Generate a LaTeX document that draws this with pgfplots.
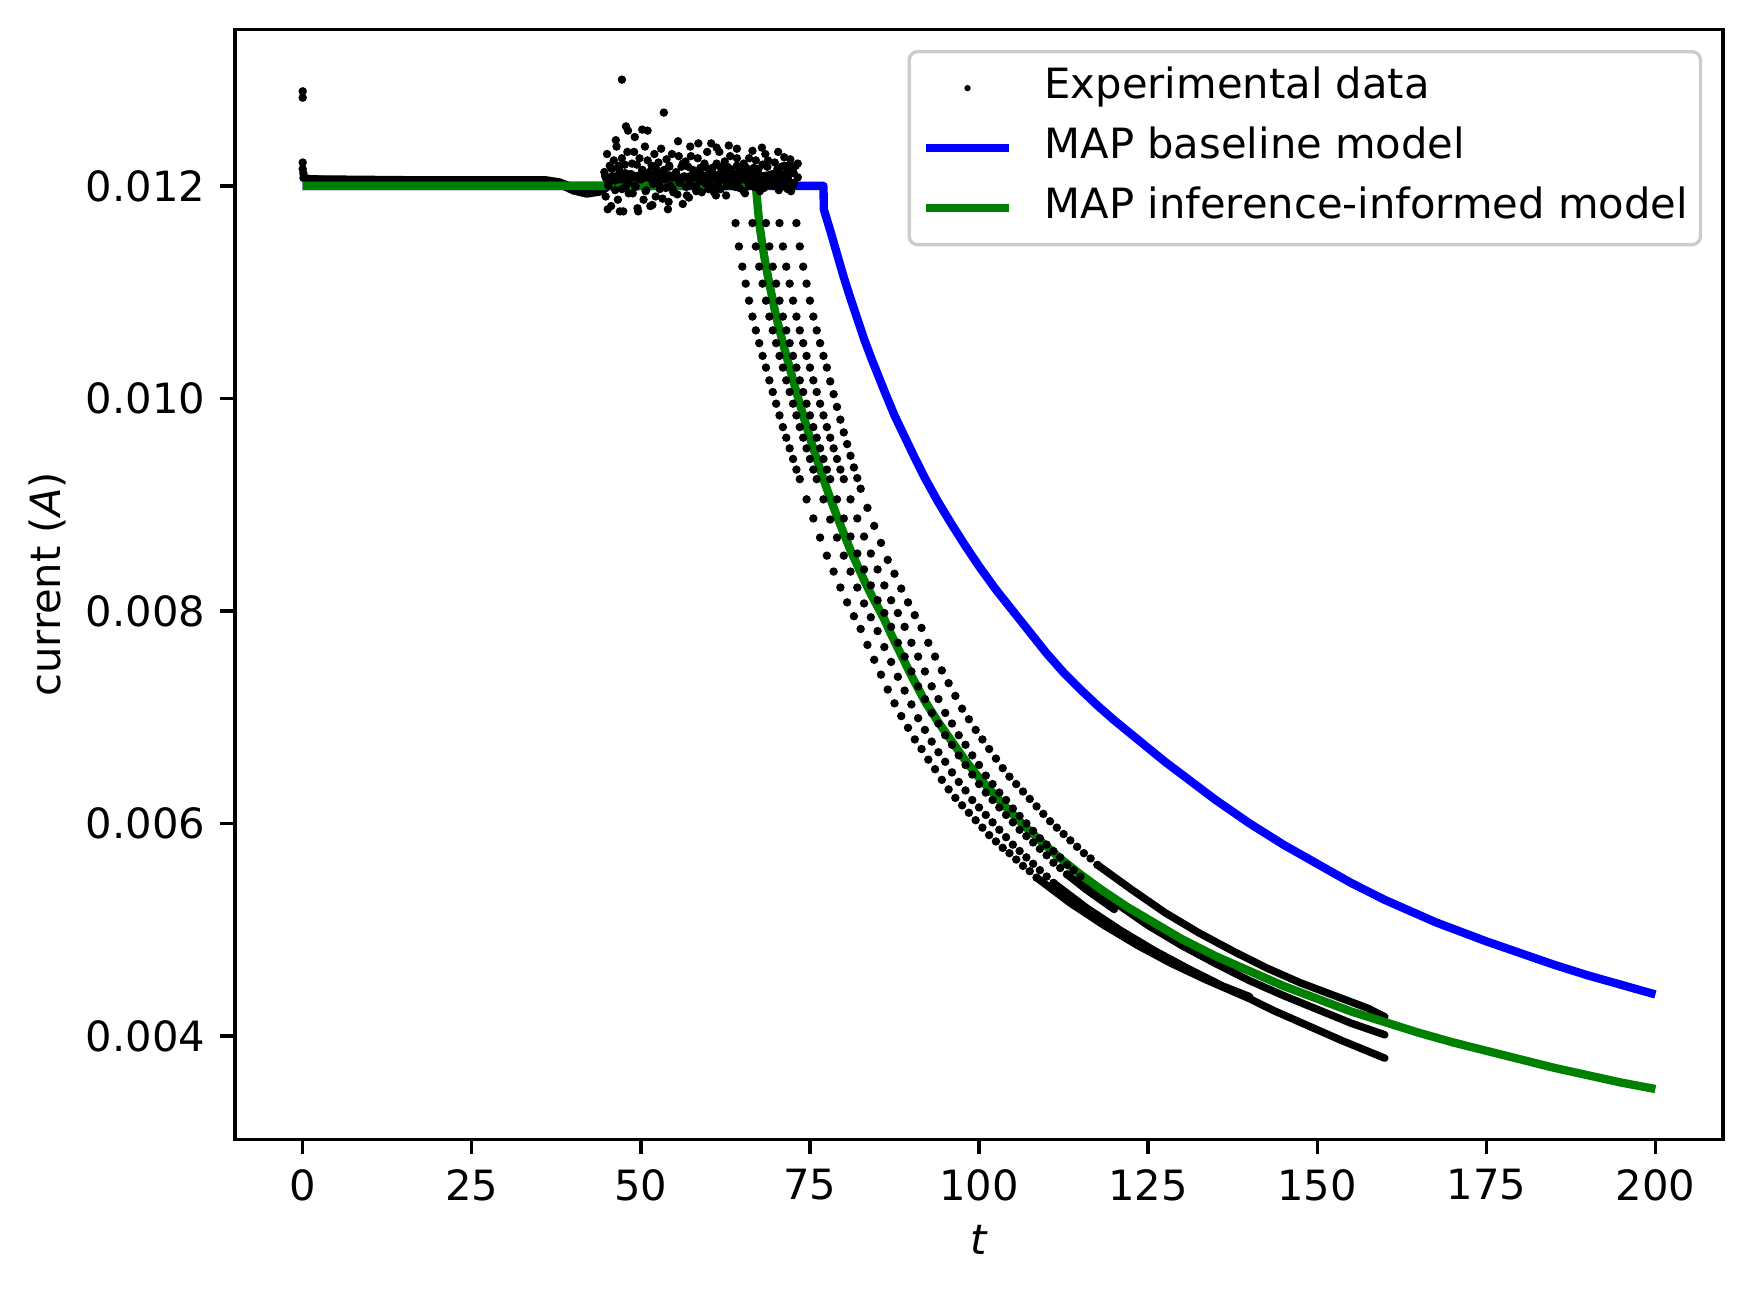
\documentclass[border=0pt]{standalone}
\usepackage{fontspec}
\setmainfont{DejaVu Sans}
\usepackage{pgfplots}
\pgfplotsset{compat=1.18}
\definecolor{mplgreen}{rgb}{0,0.5,0}
\begin{document}
\begin{tikzpicture}
\begin{axis}[
  scale only axis,
  width=357pt, height=266.4pt,
  xmin=-10, xmax=210, ymin=0.003025, ymax=0.013475,
  xtick={0,25,50,75,100,125,150,175,200},
  xticklabels={0,25,50,75,100,125,150,175,200},
  ytick={0.004,0.006,0.008,0.010,0.012},
  yticklabels={0.004,0.006,0.008,0.010,0.012},
  scaled y ticks=false, scaled x ticks=false,
  tick align=outside, major tick length=3.5pt,
  tick style={line width=0.8pt, black},
  axis line style={line width=0.8pt},
  xtick pos=lower, ytick pos=left,
  xticklabel style={inner sep=0pt, yshift=-3.5pt},
  yticklabel style={inner sep=0pt, xshift=-3.5pt},
  xlabel={\textit{t}}, ylabel={current (\textit{A})},
  xlabel style={at={(axis description cs:0.5,-0.09)}, anchor=center},
  ylabel style={at={(axis description cs:-0.126,0.5)}, anchor=center},
  legend cell align=left,
  legend image code/.code={\draw[mark repeat=2,mark phase=2,#1] plot coordinates {(0pt,0pt) (10pt,0pt) (20pt,0pt)};},
  legend style={at={(axis description cs:1,1)}, anchor=north east, xshift=-5pt, yshift=-5pt,
    draw=black!20, line width=0.8pt, rounded corners=2pt, fill=white,
    inner xsep=3pt, inner ysep=4pt, row sep=4.9pt, column sep=7.5pt,
    nodes={inner sep=0pt, text height=7.3pt, text depth=2.2pt}},
  dat/.style={forget plot, only marks, mark=*, mark size=0.85pt, black, line width=0.3pt},
  lat/.style={forget plot, black, line width=1.8pt, line join=round, line cap=round},
]
\coordinate (bbsw) at (rel axis cs:0,0);
\coordinate (bbne) at (rel axis cs:1,1);
\addlegendimage{only marks, mark=*, mark size=0.6pt, black, line width=0.3pt}
\addlegendentry{Experimental data}
\addlegendimage{blue, line width=2pt}
\addlegendentry{MAP baseline model}
\addlegendimage{mplgreen, line width=2pt}
\addlegendentry{MAP inference-informed model}

% ---- experimental data: flat part (overlapping traces)
\addplot[lat, line width=1.6pt] coordinates {
(0,0.01209)(1,0.01207)(5,0.01206)(20,0.01206)(30,0.01206)(36,0.01206)(38,0.01204)(40,0.01199)(42,0.01196)(44,0.01197)(45,0.01200)};
\addplot[lat, line width=1.6pt] coordinates {
(0,0.01207)(36,0.01205)(38,0.01201)(40,0.01195)(42,0.01192)(44,0.01194)(45,0.01198)};
% core of the noisy part
\addplot[lat, line width=3pt, line cap=butt] coordinates {
(44.5,0.01203)(46,0.01207)(48,0.01205)(50,0.01208)(52,0.01206)(54,0.01208)(56,0.01205)(58,0.01208)(60,0.01207)(62,0.01209)(64,0.01207)(66,0.01209)(68,0.01207)(70,0.01209)(72,0.01208)};
% noisy cloud
\addplot[dat] coordinates {
(44.6,0.01213)(44.8,0.01190)(45.0,0.01230)(45.2,0.01202)(45.4,0.01219)(45.6,0.01181)(45.8,0.01209)(46.0,0.01224)(46.2,0.01196)(46.4,0.01237)(46.6,0.01187)(46.8,0.01215)(47.0,0.01206)(47.2,0.01226)(47.4,0.01176)(47.6,0.01220)(47.8,0.01200)(48.0,0.01232)(48.2,0.01193)(48.4,0.01211)
(48.6,0.01211)(48.8,0.01193)(49.0,0.01232)(49.2,0.01200)(49.4,0.01220)(49.6,0.01176)(49.8,0.01226)(50.0,0.01206)(50.2,0.01215)(50.4,0.01187)(50.6,0.01237)(50.8,0.01196)(51.0,0.01224)(51.2,0.01209)(51.4,0.01181)(51.6,0.01219)(51.8,0.01202)(52.0,0.01230)(52.2,0.01190)(52.4,0.01213)
(52.6,0.01222)(52.8,0.01197)(53.0,0.01235)(53.2,0.01188)(53.4,0.01215)(53.6,0.01206)(53.8,0.01225)(54.0,0.01178)(54.2,0.01219)(54.4,0.01200)(54.6,0.01230)(54.8,0.01194)(55.0,0.01210)(55.2,0.01213)(55.4,0.01192)(55.6,0.01228)(55.8,0.01203)(56.0,0.01218)(56.2,0.01183)(56.4,0.01209)
(56.6,0.01223)(56.8,0.01191)(57.0,0.01218)(57.2,0.01203)(57.4,0.01228)(57.6,0.01200)(57.8,0.01210)(58.0,0.01212)(58.2,0.01199)(58.4,0.01226)(58.6,0.01205)(58.8,0.01217)(59.0,0.01194)(59.2,0.01209)(59.4,0.01221)(59.6,0.01202)(59.8,0.01232)(60.0,0.01197)(60.2,0.01214)(60.4,0.01206)
(60.6,0.01217)(60.8,0.01194)(61.0,0.01209)(61.2,0.01221)(61.4,0.01202)(61.6,0.01232)(61.8,0.01197)(62.0,0.01214)(62.2,0.01206)(62.4,0.01223)(62.6,0.01191)(62.8,0.01218)(63.0,0.01203)(63.2,0.01228)(63.4,0.01200)(63.6,0.01210)(63.8,0.01212)(64.0,0.01199)(64.2,0.01226)(64.4,0.01205)
(64.6,0.01198)(64.8,0.01213)(65.0,0.01206)(65.2,0.01221)(65.4,0.01193)(65.6,0.01217)(65.8,0.01204)(66.0,0.01226)(66.2,0.01201)(66.4,0.01210)(66.6,0.01212)(66.8,0.01199)(67.0,0.01224)(67.2,0.01205)(67.4,0.01216)(67.6,0.01195)(67.8,0.01209)(68.0,0.01220)(68.2,0.01202)(68.4,0.01230)
(68.6,0.01204)(68.8,0.01224)(69.0,0.01201)(69.2,0.01209)(69.4,0.01211)(69.6,0.01200)(69.8,0.01222)(70.0,0.01205)(70.2,0.01215)(70.4,0.01196)(70.6,0.01209)(70.8,0.01218)(71.0,0.01203)(71.2,0.01227)(71.4,0.01199)(71.6,0.01213)(71.8,0.01206)(72.0,0.01220)(72.2,0.01195)(72.4,0.01216)
(72.6,0.01212)(72.9,0.01219)(73.2,0.01208)
(44.7,0.01210)(45.2,0.01200)(45.7,0.01216)(46.2,0.01205)(46.7,0.01219)(47.2,0.01197)(47.7,0.01212)(48.2,0.01203)(48.7,0.01221)(49.2,0.01199)(49.7,0.01208)(50.2,0.01215)(50.7,0.01195)(51.2,0.01213)(51.7,0.01204)(52.2,0.01217)(52.7,0.01201)(53.2,0.01209)(53.7,0.01198)(54.2,0.01218)
(54.7,0.01197)(55.2,0.01212)(55.7,0.01203)(56.2,0.01221)(56.7,0.01199)(57.2,0.01208)(57.7,0.01215)(58.2,0.01195)(58.7,0.01213)(59.2,0.01204)(59.7,0.01217)(60.2,0.01201)(60.7,0.01209)(61.2,0.01198)(61.7,0.01218)(62.2,0.01210)(62.7,0.01200)(63.2,0.01216)(63.7,0.01205)(64.2,0.01219)
(64.7,0.01215)(65.2,0.01195)(65.7,0.01213)(66.2,0.01204)(66.7,0.01217)(67.2,0.01201)(67.7,0.01209)(68.2,0.01198)(68.7,0.01218)(69.2,0.01210)(69.7,0.01200)(70.2,0.01216)(70.7,0.01205)(71.2,0.01219)(71.7,0.01197)(72.2,0.01212)(72.7,0.01203)(73.2,0.01221)
(0,0.01289)(0,0.01283)(0,0.01222)(0,0.01216)(0.1,0.01212)
(47.2,0.01300)(53.4,0.01269)(47.8,0.01256)(48.1,0.01252)(50.2,0.01253)(51.0,0.01252)(46.3,0.01243)(49.1,0.01246)(57.3,0.01237)(60.4,0.01240)(61.2,0.01236)(63.0,0.01238)(64.2,0.01235)(66.5,0.01233)(70.3,0.01232)
(45.1,0.01178)(46.9,0.01176)(49.5,0.01179)(51.7,0.01182)(54.1,0.01185)(57.1,0.01189)(61.1,0.01191)(58.5,0.01240)(55.5,0.01242)(67.9,0.01236)(72.1,0.01225)};
% ---- decaying traces: dotted early parts
\addplot[dat] coordinates {
(63.5,0.01200)(64,0.01165)(64.5,0.01143)(65,0.01124)(65.5,0.01108)(66,0.01092)(66.5,0.01077)(67,0.01064)(67.5,0.01052)(68,0.01040)(68.5,0.01029)(69,0.01017)(69.5,0.01006)(70,0.00995)(70.5,0.00984)(71,0.00973)(71.5,0.00963)(72,0.00953)(72.5,0.00943)(73,0.00933)(73.5,0.00924)(74.5,0.00905)(75.5,0.00887)(76.5,0.00869)(77.5,0.00852)(78.5,0.00837)(79.5,0.00822)(80.5,0.00808)(81.5,0.00795)(82.5,0.00783)(83.5,0.00768)(84.5,0.00754)(85.5,0.00740)(86.5,0.00726)(87.5,0.00713)(88.5,0.00701)(89.5,0.00690)(90.5,0.00679)(91.5,0.00670)(92.5,0.00660)(93.5,0.00651)(94.5,0.00641)(95.5,0.00632)(96.5,0.00624)(97.5,0.00617)(98.5,0.00610)(99.5,0.00603)(100.5,0.00596)(101.5,0.00589)(102.5,0.00583)(103.5,0.00577)(104.5,0.00572)(105.5,0.00566)(106.5,0.00560)(107.5,0.00555)(108.5,0.00549)};
\addplot[dat] coordinates {
(66,0.01200)(66.5,0.01165)(67,0.01143)(67.5,0.01124)(68,0.01108)(68.5,0.01092)(69,0.01077)(69.5,0.01064)(70,0.01052)(70.5,0.01040)(71,0.01029)(71.5,0.01017)(72,0.01006)(72.5,0.00995)(73,0.00984)(73.5,0.00973)(74,0.00963)(74.5,0.00953)(75,0.00943)(75.5,0.00933)(76,0.00924)(77,0.00905)(78,0.00886)(79,0.00869)(80,0.00852)(81,0.00837)(82,0.00822)(83,0.00807)(84,0.00794)(85,0.00781)(86,0.00766)(87,0.00752)(88,0.00738)(89,0.00725)(90,0.00712)(91,0.00699)(92,0.00688)(93,0.00677)(94,0.00667)(95,0.00658)(96,0.00648)(97,0.00639)(98,0.00631)(99,0.00622)(100,0.00615)(101,0.00608)(102,0.00601)(103,0.00594)(104,0.00587)(105,0.00580)(106,0.00574)(107,0.00568)(108,0.00562)(109,0.00556)(110,0.00550)(111,0.00544)};
\addplot[dat] coordinates {
(68,0.01200)(68.5,0.01165)(69,0.01143)(69.5,0.01124)(70,0.01108)(70.5,0.01092)(71,0.01077)(71.5,0.01064)(72,0.01052)(72.5,0.01040)(73,0.01029)(73.5,0.01017)(74,0.01006)(74.5,0.00995)(75,0.00984)(75.5,0.00973)(76,0.00963)(76.5,0.00953)(77,0.00943)(77.5,0.00933)(78,0.00924)(79,0.00905)(80,0.00887)(81,0.00870)(82,0.00854)(83,0.00839)(84,0.00824)(85,0.00810)(86,0.00798)(87,0.00785)(88,0.00770)(89,0.00757)(90,0.00743)(91,0.00729)(92,0.00717)(93,0.00704)(94,0.00694)(95,0.00683)(96,0.00674)(97,0.00664)(98,0.00655)(99,0.00646)(100,0.00637)(101,0.00629)(102,0.00622)(103,0.00615)(104,0.00608)(105,0.00601)(106,0.00594)(107,0.00588)(108,0.00582)(109,0.00576)(110,0.00570)(111,0.00563)(112,0.00558)(113,0.00552)};
\addplot[dat] coordinates {
(70,0.01200)(70.5,0.01165)(71,0.01143)(71.5,0.01124)(72,0.01108)(72.5,0.01092)(73,0.01077)(73.5,0.01064)(74,0.01052)(74.5,0.01040)(75,0.01029)(75.5,0.01017)(76,0.01006)(76.5,0.00995)(77,0.00984)(77.5,0.00973)(78,0.00963)(78.5,0.00953)(79,0.00943)(79.5,0.00933)(80,0.00924)(81,0.00905)(82,0.00887)(83,0.00870)(84,0.00854)(85,0.00839)(86,0.00824)(87,0.00810)(88,0.00798)(89,0.00785)(90,0.00770)(91,0.00757)(92,0.00743)(93,0.00729)(94,0.00717)(95,0.00704)(96,0.00694)(97,0.00683)(98,0.00674)(99,0.00664)(100,0.00655)(101,0.00645)(102,0.00637)(103,0.00629)(104,0.00622)(105,0.00614)(106,0.00607)(107,0.00600)(108,0.00593)(109,0.00586)(110,0.00580)(111,0.00574)(112,0.00568)(113,0.00561)(114,0.00556)(115,0.00550)};
\addplot[dat] coordinates {
(72.5,0.01200)(73,0.01165)(73.5,0.01143)(74,0.01124)(74.5,0.01108)(75,0.01092)(75.5,0.01077)(76,0.01064)(76.5,0.01052)(77,0.01040)(77.5,0.01029)(78,0.01016)(78.5,0.01004)(79,0.00992)(79.5,0.00980)(80,0.00968)(80.5,0.00957)(81,0.00946)(81.5,0.00935)(82,0.00925)(82.5,0.00915)(83.5,0.00897)(84.5,0.00880)(85.5,0.00864)(86.5,0.00848)(87.5,0.00835)(88.5,0.00821)(89.5,0.00808)(90.5,0.00796)(91.5,0.00784)(92.5,0.00770)(93.5,0.00757)(94.5,0.00744)(95.5,0.00732)(96.5,0.00720)(97.5,0.00708)(98.5,0.00698)(99.5,0.00688)(100.5,0.00679)(101.5,0.00670)(102.5,0.00661)(103.5,0.00652)(104.5,0.00644)(105.5,0.00637)(106.5,0.00630)(107.5,0.00623)(108.5,0.00616)(109.5,0.00609)(110.5,0.00602)(111.5,0.00596)(112.5,0.00590)(113.5,0.00584)(114.5,0.00578)(115.5,0.00572)(116.5,0.00567)(117.5,0.00561)};
% ---- decaying traces: dense late parts
\addplot[lat] coordinates {
(108.5,0.00549)(113.5,0.00525)(118.5,0.00504)(123.5,0.00485)(128.5,0.00468)(133.5,0.00453)(140,0.00435)(143.5,0.00424)(148.5,0.00410)(153.5,0.00396)(160,0.00379)};
\addplot[lat] coordinates {
(111,0.00544)(116,0.00520)(121,0.00499)(126,0.00480)(131,0.00463)(136,0.00447)(140,0.00437)};
\addplot[lat] coordinates {
(113,0.00552)(116,0.00537)(120,0.00519)};
\addplot[lat] coordinates {
(115,0.00550)(120,0.00526)(125,0.00504)(130,0.00485)(135,0.00468)(140,0.00452)(145,0.00438)(150,0.00425)(155,0.00412)(160,0.00401)};
\addplot[lat] coordinates {
(117.5,0.00561)(122.5,0.00538)(127.5,0.00516)(132.5,0.00497)(137.5,0.00480)(142.5,0.00464)(147.5,0.00450)(152.5,0.00438)(157.5,0.00426)(160,0.00418)};
% ---- MAP baseline model
\addplot[forget plot, blue, line width=2pt, line join=round] coordinates {
(0,0.01200)(77,0.01200)(77.05,0.01178)(78,0.01158)(79,0.01136)(80,0.01114)(81,0.01094)(82,0.01075)(83,0.01056)(84,0.01039)(85,0.01023)(86,0.01007)(87.5,0.00984)(89,0.00964)(90.5,0.00944)(92,0.00925)(94,0.00902)(96,0.00881)(98,0.00861)(100,0.00842)(102.5,0.00820)(105,0.00800)(107.5,0.00780)(110,0.00760)(112.5,0.00742)(115,0.00726)(117.5,0.00711)(120,0.00697)(122.5,0.00684)(125,0.00671)(127.5,0.00658)(130,0.00646)(132.5,0.00634)(135,0.00622)(137.5,0.00611)(140,0.00600)(142.5,0.00590)(145,0.00580)(147.5,0.00571)(150,0.00562)(152.5,0.00553)(155,0.00544)(157.5,0.00536)(160,0.00528)(162.5,0.00521)(165,0.00514)(167.5,0.00507)(170,0.00501)(175,0.00489)(180,0.00478)(185,0.00467)(190,0.00457)(195,0.00448)(200,0.00439)};
% ---- MAP inference-informed model
\addplot[forget plot, mplgreen, line width=2pt, line join=round] coordinates {
(0,0.0120)(67,0.0120)(67.5,0.01165)(68,0.01143)(68.5,0.01124)(69,0.01108)(70,0.01077)(71,0.01052)(72,0.01029)(73,0.01006)(74,0.00984)(75,0.00963)(76,0.00943)(77,0.00924)(78,0.00906)(79,0.00889)(80,0.00873)(81,0.00857)(82,0.00843)(83,0.00829)(84,0.00816)(85,0.00804)(86,0.00792)(87,0.00778)(88,0.00765)(89,0.00752)(90,0.00739)(91,0.00727)(92,0.00715)(94,0.00695)(96,0.00677)(98,0.00659)(100,0.00643)(103,0.00622)(106,0.00602)(109,0.00584)(112,0.00567)(115,0.00552)(118,0.00538)(122,0.00521)(126,0.00506)(130,0.00491)(135,0.00475)(140,0.00461)(145,0.00447)(150,0.00435)(155,0.00423)(160,0.00413)(165,0.00403)(170,0.00394)(175,0.00386)(180,0.00378)(185,0.00370)(190,0.00363)(195,0.00356)(200,0.00350)};
\end{axis}
\pgfresetboundingbox
\path[use as bounding box] ([xshift=-56.4pt,yshift=-37.2pt]bbsw) rectangle ([xshift=7.2pt,yshift=7.0pt]bbne);
\end{tikzpicture}
\end{document}
